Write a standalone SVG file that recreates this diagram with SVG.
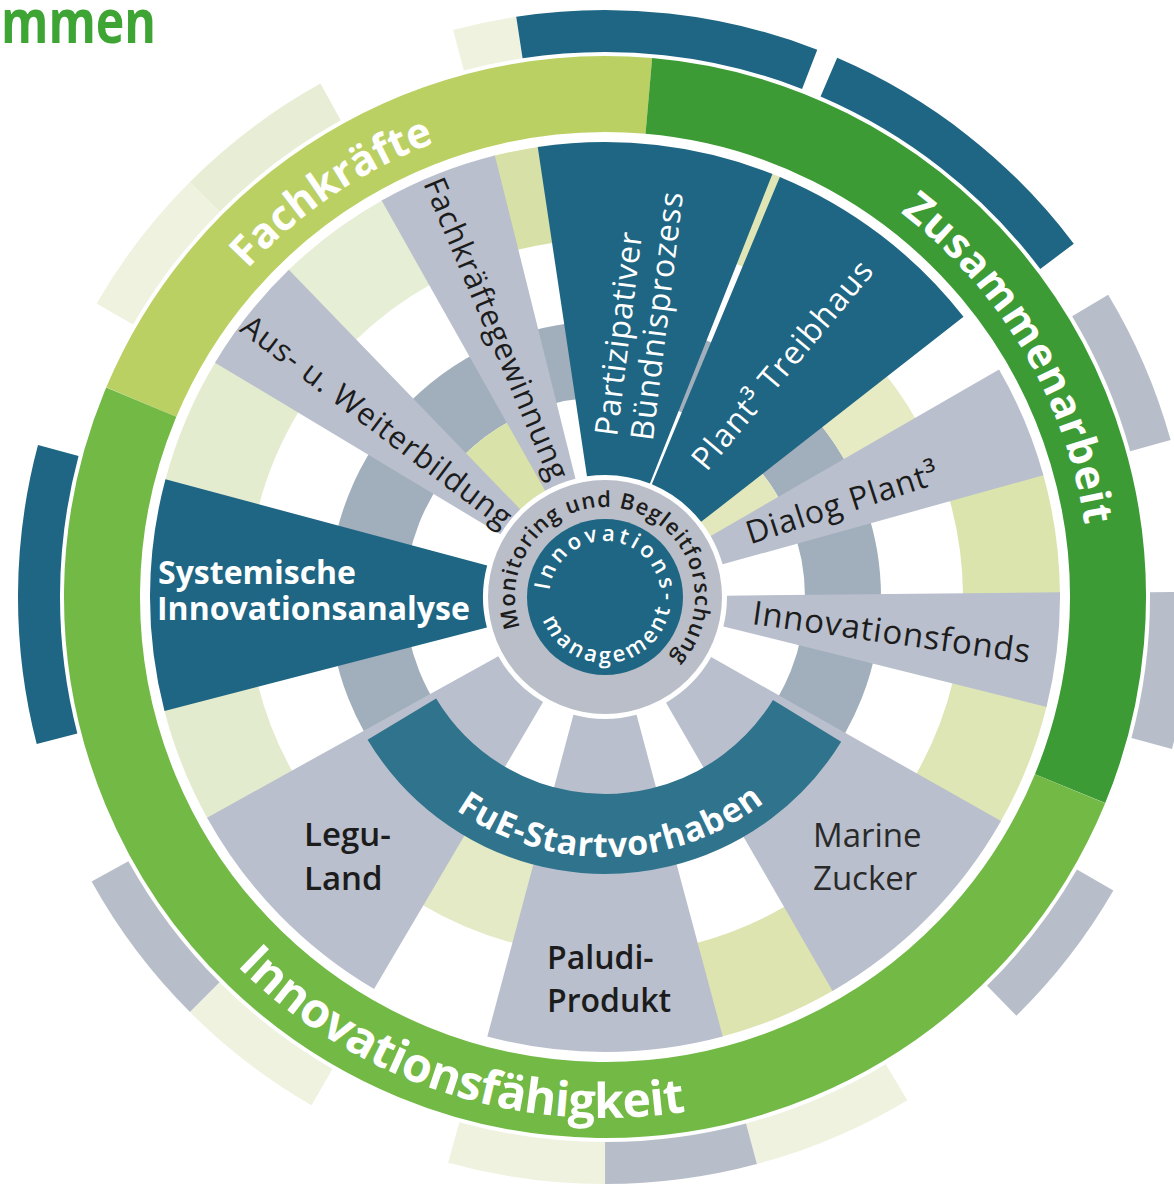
<svg xmlns="http://www.w3.org/2000/svg" width="1174" height="1184" viewBox="0 0 1174 1184">
<defs>
<style>
circle.s{fill:none}
.t{font-family:"Open Sans","Noto Sans","DejaVu Sans",sans-serif}
.dk{fill:#1c1c1c}
.wt{fill:#ffffff}
.teal{stroke:#1e6683}
.lg{stroke:#b9bfcc}
.mg{stroke:#a1aebb}
.og{stroke:#b8bec9}
.op{stroke:#eef2de}
.op2{stroke:#e8eed5}
.ob{stroke-width:42}
.rg{stroke-width:76}
.za{stroke-width:78}
.zc{stroke-width:82}
.zd{stroke-width:97}
.sp{stroke-width:333}
</style>
<path id="pMon" d="M523.43,635.04 A90,90 0 1 1 665.22,663.88"/>
<path id="pInn" d="M549.21,601.88 A56,56 0 1 1 659.09,611.49"/>
<path id="pMgm" d="M539.36,603.90 A66,66 0 0 0 670.84,592.40"/>
<path id="pFue" d="M383.09,732.46 A260,260 0 0 0 833.27,721.46"/>
<path id="pIfk" d="M118.60,783.71 A521,521 0 0 0 888.76,1033.95"/>
<path id="pFach" d="M149.25,431.12 A485,485 0 0 1 621.93,112.30"/>
<path id="pZus" d="M770.88,141.25 A485,485 0 0 1 1084.03,672.87"/>
</defs>
<rect width="1174" height="1184" fill="#ffffff"/>
<g id="title">
<text class="t" x="1" y="43" font-size="60" font-weight="bold" fill="#3ea535" textLength="155" lengthAdjust="spacingAndGlyphs">mmen</text>
</g>
<g id="outer-band" transform="translate(605 597)">
<circle class="s ob op" r="566" pathLength="360" stroke-dasharray="15 360" transform="rotate(210)"/>
<circle class="s ob op2" r="566" pathLength="360" stroke-dasharray="16 360" transform="rotate(225)"/>
<circle class="s ob op" r="566" pathLength="360" stroke-dasharray="6.3 360" transform="rotate(255)"/>
<circle class="s ob teal" r="566" pathLength="360" stroke-dasharray="29.9 360" transform="rotate(261.3)"/>
<circle class="s ob teal" r="566" pathLength="360" stroke-dasharray="29.7 360" transform="rotate(293.3)"/>
<circle class="s ob og" r="566" pathLength="360" stroke-dasharray="15.5 360" transform="rotate(329)"/>
<circle class="s ob og" r="566" pathLength="360" stroke-dasharray="15.5 360" transform="rotate(359.5)"/>
<circle class="s ob og" r="566" pathLength="360" stroke-dasharray="15.5 360" transform="rotate(30)"/>
<circle class="s ob op" r="566" pathLength="360" stroke-dasharray="16 360" transform="rotate(59)"/>
<circle class="s ob og" r="566" pathLength="360" stroke-dasharray="15 360" transform="rotate(75)"/>
<circle class="s ob op" r="566" pathLength="360" stroke-dasharray="15.5 360" transform="rotate(90)"/>
<circle class="s ob op" r="566" pathLength="360" stroke-dasharray="15 360" transform="rotate(120)"/>
<circle class="s ob og" r="566" pathLength="360" stroke-dasharray="16 360" transform="rotate(135)"/>
<circle class="s ob teal" r="566" pathLength="360" stroke-dasharray="29.5 360" transform="rotate(165.5)"/>
</g>
<g id="ring" transform="translate(605 597)">
<circle class="s rg" r="503" stroke="#bbd063" pathLength="360" stroke-dasharray="72.2 360" transform="rotate(202.8)"/>
<circle class="s rg" r="503" stroke="#3c9b34" pathLength="360" stroke-dasharray="107.4 360" transform="rotate(275)"/>
<circle class="s rg" r="503" stroke="#73b946" pathLength="360" stroke-dasharray="180.4 360" transform="rotate(22.4)"/>
</g>
<g id="ring-labels">
<text class="t wt" font-size="42" font-weight="bold"><textPath href="#pFach" startOffset="50%" text-anchor="middle" textLength="228">Fachkräfte</textPath></text>
<text class="t wt" font-size="42" font-weight="bold"><textPath href="#pZus" startOffset="50%" text-anchor="middle" textLength="372">Zusammenarbeit</textPath></text>
<text class="t wt" font-size="48" font-weight="bold"><textPath href="#pIfk" startOffset="50%" text-anchor="middle" textLength="490">Innovationsfähigkeit</textPath></text>
</g>
<g id="zones" transform="translate(605 597)">
<circle class="s mg" r="238" stroke-width="76"/>
<circle class="s za" r="161" stroke="#d9e2a9" pathLength="360" stroke-dasharray="15.2 360" transform="rotate(225.7)"/>
<circle class="s za" r="161" stroke="#e2e8bc" pathLength="360" stroke-dasharray="8.6 360" transform="rotate(321.7)"/>
<circle class="s zc" r="317" stroke="#e6ebc3" pathLength="360" stroke-dasharray="8.6 360" transform="rotate(321.7)"/>
<circle class="s zc" r="317" stroke="#e3eac5" pathLength="360" stroke-dasharray="16.1 360" transform="rotate(104.7)"/>
<circle class="s zd" r="406.5" stroke="#e4ecd0" pathLength="360" stroke-dasharray="16.6 360" transform="rotate(194.7)"/>
<circle class="s zd" r="406.5" stroke="#e7eed6" pathLength="360" stroke-dasharray="15.2 360" transform="rotate(225.7)"/>
<circle class="s zd" r="406.5" stroke="#d7e0a7" pathLength="360" stroke-dasharray="6.1 360" transform="rotate(255.7)"/>
<circle class="s zd" r="406.5" stroke="#dfe5b4" pathLength="360" stroke-dasharray="1.6 360" transform="rotate(291.3)"/>
<circle class="s zd" r="406.5" stroke="#dce4ae" pathLength="360" stroke-dasharray="15.5 360" transform="rotate(344.2)"/>
<circle class="s zd" r="406.5" stroke="#dfe6b5" pathLength="360" stroke-dasharray="16.1 360" transform="rotate(13.7)"/>
<circle class="s zd" r="406.5" stroke="#dde4b0" pathLength="360" stroke-dasharray="15.6 360" transform="rotate(59.7)"/>
<circle class="s zd" r="406.5" stroke="#e3ebce" pathLength="360" stroke-dasharray="15.1 360" transform="rotate(150.7)"/>
</g>
<g id="spoke-systemische">
<circle class="s sp teal" cx="605" cy="597" r="288.5" pathLength="360" stroke-dasharray="29.5 360" transform="rotate(165.5 605 597)"/>
<text class="t wt" font-size="32" font-weight="bold"><tspan x="158" y="584">Systemische</tspan><tspan x="157" y="620">Innovationsanalyse</tspan></text>
</g>
<g id="spoke-aus">
<circle class="s sp lg" cx="605" cy="597" r="288.5" pathLength="360" stroke-dasharray="15 360" transform="rotate(211 605 597)"/>
<text class="t dk" font-size="31" font-weight="500" text-anchor="middle" dy="0.35em" textLength="330" transform="translate(376.8 421.3) rotate(37)">Aus- u. Weiterbildung</text>
</g>
<g id="spoke-fachkraeftegewinnung">
<circle class="s sp lg" cx="605" cy="597" r="288.5" pathLength="360" stroke-dasharray="15.4 360" transform="rotate(240.6 605 597)"/>
<text class="t dk" font-size="31" font-weight="500" text-anchor="middle" dy="0.35em" textLength="325" transform="translate(496.5 328.5) rotate(67)">Fachkräftegewinnung</text>
</g>
<g id="spoke-partizipativer">
<circle class="s sp teal" cx="605" cy="597" r="288.5" pathLength="360" stroke-dasharray="30.1 360" transform="rotate(261.5 605 597)"/>
<text class="t wt" font-size="32" font-weight="500" textLength="205" transform="translate(617 437) rotate(-83)">Partizipativer</text>
<text class="t wt" font-size="32" font-weight="500" textLength="250" transform="translate(652.7 441.4) rotate(-83)">Bündnisprozess</text>
</g>
<g id="spoke-plant-treibhaus">
<circle class="s sp teal" cx="605" cy="597" r="288.5" pathLength="360" stroke-dasharray="29.4 360" transform="rotate(292.6 605 597)"/>
<text class="t wt" font-size="32" font-weight="500" text-anchor="middle" dy="0.35em" textLength="262" transform="translate(782 365) rotate(-50)">Plant³ Treibhaus</text>
</g>
<g id="spoke-dialog">
<circle class="s sp lg" cx="605" cy="597" r="288.5" pathLength="360" stroke-dasharray="14.5 360" transform="rotate(330 605 597)"/>
<text class="t dk" font-size="32" font-weight="500" text-anchor="middle" dy="0.35em" textLength="200" transform="translate(842 503) rotate(-18)">Dialog Plant³</text>
</g>
<g id="spoke-innovationsfonds">
<circle class="s sp lg" cx="605" cy="597" r="288.5" pathLength="360" stroke-dasharray="14.6 360" transform="rotate(359.4 605 597)"/>
<text class="t dk" font-size="33" font-weight="500" text-anchor="middle" dy="0.35em" textLength="280" transform="translate(891.5 632) rotate(8)">Innovationsfonds</text>
</g>
<g id="spoke-marine">
<circle class="s sp lg" cx="605" cy="597" r="288.5" pathLength="360" stroke-dasharray="30.5 360" transform="rotate(29.5 605 597)"/>
</g>
<g id="spoke-paludi">
<circle class="s sp lg" cx="605" cy="597" r="288.5" pathLength="360" stroke-dasharray="30 360" transform="rotate(75 605 597)"/>
</g>
<g id="spoke-legu">
<circle class="s sp lg" cx="605" cy="597" r="288.5" pathLength="360" stroke-dasharray="30.5 360" transform="rotate(120.5 605 597)"/>
</g>
<g id="fue">
<circle class="s" cx="605" cy="597" r="237" stroke="#2f738d" stroke-width="80" pathLength="360" stroke-dasharray="117.5 360" transform="rotate(31.5 605 597)"/>
<text class="t wt" font-size="34" font-weight="bold"><textPath href="#pFue" startOffset="50%" text-anchor="middle" textLength="330">FuE-Startvorhaben</textPath></text>
</g>
<g id="project-labels">
<text class="t dk" font-size="33" font-weight="600"><tspan x="304" y="846">Legu-</tspan><tspan x="304" y="890">Land</tspan></text>
<text class="t dk" font-size="32" font-weight="600"><tspan x="547" y="969">Paludi-</tspan><tspan x="547" y="1012">Produkt</tspan></text>
<text class="t" font-size="33" font-weight="500" fill="#2a2a2a"><tspan x="813" y="847">Marine</tspan><tspan x="813" y="890">Zucker</tspan></text>
</g>
<g id="center">
<circle cx="605" cy="597" r="117" fill="#b9bec8"/>
<text class="t dk" font-size="22" font-weight="600"><textPath href="#pMon" startOffset="50%" text-anchor="middle" textLength="380">Monitoring und Begleitforschung</textPath></text>
<circle cx="605" cy="597" r="78" fill="#1e6683"/>
<text class="t wt" font-size="22" font-weight="600"><textPath href="#pInn" startOffset="50%" text-anchor="middle" textLength="172">Innovations-</textPath></text>
<text class="t wt" font-size="22" font-weight="600"><textPath href="#pMgm" startOffset="50%" text-anchor="middle" textLength="172">management</textPath></text>
</g>
</svg>
